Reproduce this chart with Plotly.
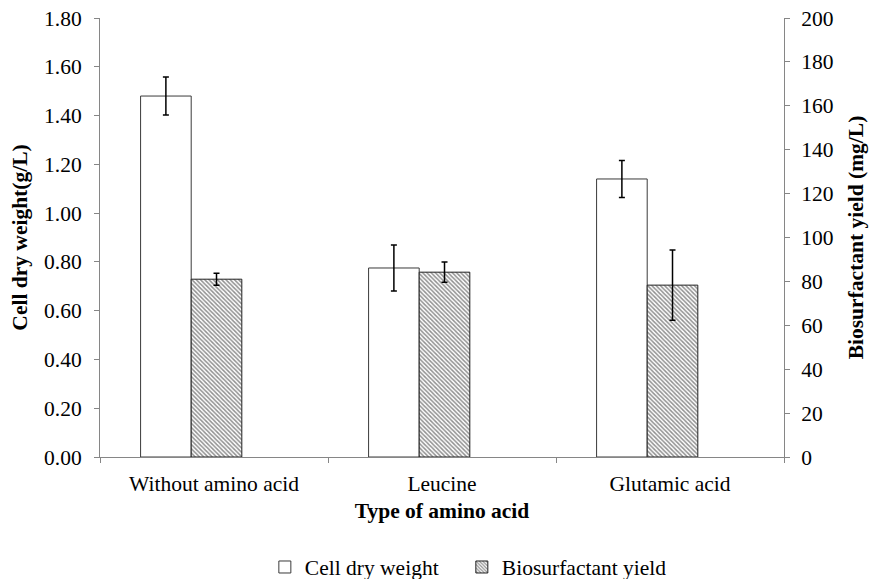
import plotly.graph_objects as go

categories = ["Without amino acid", "Leucine", "Glutamic acid"]
cell_dry_weight = [1.48, 0.775, 1.14]
cell_dry_weight_err = [0.078, 0.094, 0.076]
biosurfactant_yield = [81.0, 84.2, 78.3]
biosurfactant_err = [2.7, 4.6, 16.0]

FONT = "Liberation Serif"
AXIS_GREY = "#868686"
FS = 21.5

fig = go.Figure()
fig.add_trace(go.Bar(
    x=categories, y=cell_dry_weight, name="Cell dry weight",
    offset=-0.322, width=0.222,
    marker=dict(color="white", line=dict(color="#3a3a3a", width=1)),
    error_y=dict(type="data", array=cell_dry_weight_err, color="black", thickness=1.5, width=3),
    yaxis="y", legend="legend",
))
fig.add_trace(go.Bar(
    x=categories, y=biosurfactant_yield, name="Biosurfactant yield",
    offset=-0.1, width=0.222,
    marker=dict(color="white", line=dict(color="#222222", width=1),
                pattern=dict(shape="\\", size=3, solidity=0.5, fgcolor="#222222", bgcolor="white")),
    error_y=dict(type="data", array=biosurfactant_err, color="black", thickness=1.5, width=3),
    yaxis="y2", legend="legend2",
))

legend_common = dict(orientation="h", xanchor="left", y=-0.2506, yanchor="middle",
                     font=dict(family=FONT, size=FS), itemwidth=30, bgcolor="rgba(0,0,0,0)")

fig.update_layout(
    width=871, height=579,
    margin=dict(l=100, r=87, t=18, b=122, autoexpand=False),
    paper_bgcolor="white", plot_bgcolor="white",
    font=dict(family=FONT, size=FS, color="black"),
    barmode="overlay",
    showlegend=True,
    legend=dict(x=0.241, **legend_common),
    legend2=dict(x=0.529, **legend_common),
    xaxis=dict(
        type="category", tickson="boundaries", ticks="outside", ticklen=5, tickcolor=AXIS_GREY,
        showline=True, linecolor=AXIS_GREY, linewidth=1, showgrid=False, zeroline=False,
        range=[-0.5, 2.5], ticklabelstandoff=7,
        title=dict(text="<b>Type of amino acid</b>", font=dict(family=FONT, size=FS), standoff=8),
    ),
    yaxis=dict(
        range=[0, 1.8], dtick=0.2, tickformat=".2f", ticks="outside", ticklen=5, tickcolor=AXIS_GREY,
        showline=True, linecolor=AXIS_GREY, linewidth=1, showgrid=False, zeroline=False,
        ticklabelstandoff=8,
        title=dict(text="<b>Cell dry weight(g/L)</b>", font=dict(family=FONT, size=FS), standoff=10),
    ),
    yaxis2=dict(
        range=[0, 200], dtick=20, overlaying="y", side="right", ticks="outside", ticklen=5,
        tickcolor=AXIS_GREY, showline=True, linecolor=AXIS_GREY, linewidth=1, showgrid=False,
        zeroline=False, ticklabelstandoff=7,
        title=dict(text="<b>Biosurfactant yield (mg/L)</b>", font=dict(family=FONT, size=FS), standoff=15),
    ),
)

fig.write_html("out.html")
